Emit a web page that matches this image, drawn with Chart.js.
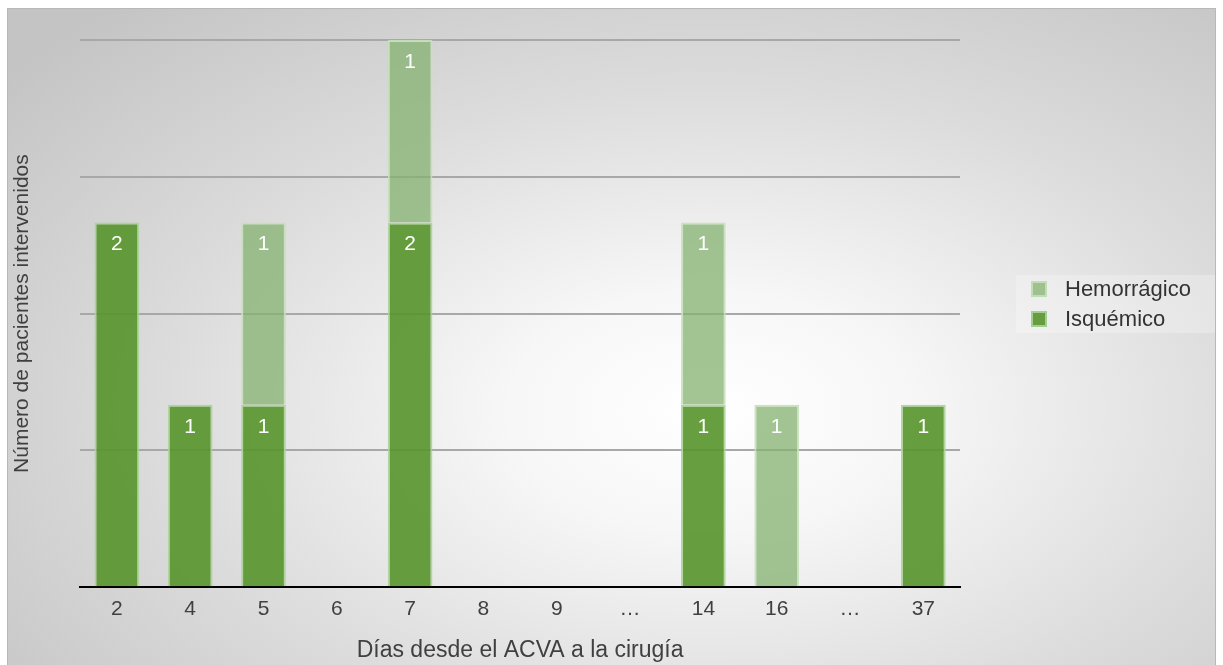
<!DOCTYPE html>
<html>
<head>
<meta charset="utf-8">
<script src="https://cdn.jsdelivr.net/npm/chart.js@4/dist/chart.umd.min.js"></script>
<style>
    html, body { margin: 0; padding: 0; background: #fff; }
    #frame {
        position: absolute; left: 7px; top: 8px; width: 1207px; height: 670px;
        border: 1px solid #b8b8b8;
        background: radial-gradient(ellipse 75% 80% at 58% 60%, #ffffff 0%, #f7f7f7 22%, #dcdcdc 60%, #c4c4c4 100%);
    }
    #wrap { position: absolute; left: 0; top: 0; width: 1223px; height: 665px; }
</style>
</head>
<body>
<div id="frame"></div>
<div id="wrap"><canvas id="diasChart"></canvas></div>
<script>
// 類別與數值
const dias = ['2', '4', '5', '6', '7', '8', '9', '…', '14', '16', '…', '37'];
const isquemico = [2, 1, 1, 0, 2, 0, 0, 0, 1, 0, 0, 1];
const hemorragico = [0, 0, 1, 0, 1, 0, 0, 0, 1, 1, 0, 0];
const yTicks = [0, 0.75, 1.5, 2.25, 3];

const FONT = "'Liberation Sans', Helvetica, Arial, sans-serif";

/**
 * 在柱內頂部寫出數值
 */
const barLabels = {
    id: 'barLabels',
    afterDatasetsDraw(chart) {
        const ctx = chart.ctx;
        ctx.save();
        ctx.fillStyle = '#ffffff';
        ctx.font = '21px ' + FONT;
        ctx.textAlign = 'center';
        ctx.textBaseline = 'middle';
        chart.data.datasets.forEach((ds, i) => {
            chart.getDatasetMeta(i).data.forEach((bar, j) => {
                if (!ds.data[j]) return;
                ctx.fillText(String(ds.data[j]), bar.x, bar.y + 22);
            });
        });
        ctx.restore();
    }
};

/**
 * 右側圖例 (Hemorrágico 在上)
 */
const sideLegend = {
    id: 'sideLegend',
    afterDraw(chart) {
        const ctx = chart.ctx;
        ctx.save();
        ctx.fillStyle = 'rgba(255,255,255,0.25)';
        ctx.fillRect(1016, 275, 199, 58);
        const items = [chart.data.datasets[1], chart.data.datasets[0]];
        ctx.font = '22px ' + FONT;
        ctx.textBaseline = 'middle';
        items.forEach((ds, k) => {
            const cy = 289 + k * 30;
            ctx.fillStyle = ds.backgroundColor;
            ctx.fillRect(1031, cy - 8, 16, 16);
            ctx.strokeStyle = ds.borderColor;
            ctx.lineWidth = 2;
            ctx.strokeRect(1032, cy - 7, 14, 14);
            ctx.fillStyle = '#333333';
            ctx.fillText(ds.label, 1065, cy + 1);
        });
        ctx.restore();
    }
};

document.addEventListener('DOMContentLoaded', function () {
    const ctx = document.getElementById('diasChart').getContext('2d');
    new Chart(ctx, {
        type: 'bar',
        data: {
            labels: dias,
            datasets: [{
                label: 'Isquémico',
                data: isquemico,
                backgroundColor: 'rgba(86, 147, 42, 0.9)',
                borderColor: 'rgba(172, 210, 152, 0.9)',
                borderWidth: 2,
                barPercentage: 0.61,
                categoryPercentage: 1
            }, {
                label: 'Hemorrágico',
                data: hemorragico,
                backgroundColor: 'rgba(132, 178, 112, 0.75)',
                borderColor: 'rgba(198, 224, 186, 0.9)',
                borderWidth: 2,
                barPercentage: 0.61,
                categoryPercentage: 1
            }]
        },
        options: {
            responsive: true,
            maintainAspectRatio: false,
            animation: false,
            layout: { padding: { top: 40, right: 263, left: 6, bottom: 0 } },
            plugins: {
                legend: { display: false },
                tooltip: { enabled: false }
            },
            scales: {
                x: {
                    stacked: true,
                    grid: { display: false, drawTicks: false },
                    border: { color: '#000000', width: 2 },
                    ticks: { color: '#404040', font: { size: 21, family: FONT }, padding: 9 },
                    title: {
                        display: true,
                        text: 'Días desde el ACVA a la cirugía',
                        color: '#404040',
                        font: { size: 23, family: FONT },
                        padding: { top: 6, bottom: 1 }
                    }
                },
                y: {
                    stacked: true,
                    min: 0,
                    max: 3,
                    afterBuildTicks: (axis) => { axis.ticks = yTicks.map(v => ({ value: v })); },
                    ticks: { display: false },
                    border: { display: false },
                    grid: {
                        drawTicks: false,
                        lineWidth: 2,
                        color: (c) => c.tick && c.tick.value === 0 ? 'rgba(0,0,0,0)' : '#a8a8a8'
                    },
                    title: {
                        display: true,
                        text: 'Número de pacientes intervenidos',
                        color: '#404040',
                        font: { size: 21, family: FONT },
                        padding: { top: 4, bottom: 45 }
                    }
                }
            }
        },
        plugins: [barLabels, sideLegend]
    });
});
</script>
</body>
</html>
